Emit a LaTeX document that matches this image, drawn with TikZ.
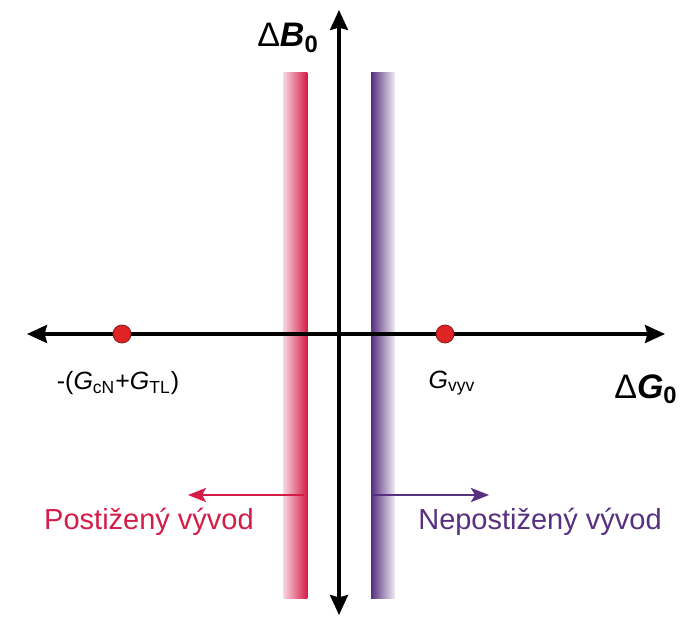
\documentclass[tikz,border=0pt]{standalone}
\usepackage{fontspec}
\setmainfont{Liberation Sans}
\usetikzlibrary{arrows.meta,positioning}
\definecolor{postred}{RGB}{212,28,72}
\definecolor{nepurple}{RGB}{88,48,128}
\definecolor{dotred}{RGB}{222,36,36}
\begin{document}
\begin{tikzpicture}[x=0.5pt,y=-0.5pt,
  axis/.style={line width=1.6pt,
               {Stealth[length=10pt,width=9pt,inset=1.2pt]}-{Stealth[length=10pt,width=9pt,inset=1.2pt]}},
  band/.style={rectangle,draw=none,inner sep=0pt,
               minimum width=11.8pt,minimum height=262.5pt},
  pt/.style={circle,fill=dotred,draw=dotred!65!black,line width=0.4pt,
             inner sep=0pt,minimum size=9pt},
  ax/.style={font=\fontsize{17}{20}\selectfont,inner sep=0pt},
  val/.style={font=\fontsize{12.5}{15}\selectfont,inner sep=0pt},
  side/.style={font=\fontsize{14.5}{17}\selectfont,inner sep=0pt},
  arr/.style={line width=1.4pt,-{Stealth[length=9pt,width=7pt,inset=2pt]}}]
\useasboundingbox (0,0) rectangle (683,619);
%%
%% Shaded bands
\node[band,left color=postred!20,right color=postred](redband) at (295.5,335.5) {};
\node[band,left color=nepurple,right color=nepurple!10](blueband) at (383,335.5) {};
%%
%% Axis ends
\coordinate (gl) at (27,334);
\coordinate (gr) at (665,334);
\coordinate (bt) at (339,10);
\coordinate (bb) at (339,615);
\draw[axis](gl) -- (gr);
\draw[axis](bb) -- (bt);
%%
%% Axis labels
\node[ax](db) at (288,38) {Δ\textbf{\textit{B}}\textsubscript{\textbf{0}}};
\node[ax](dg) at (646,389) {Δ\textbf{\textit{G}}\textsubscript{\textbf{0}}};
%%
%% Points on the G axis
\node[pt](gneg) at (122,334) {};
\node[pt](gvyv) at (445,334) {};
\node[val](lneg) at (118,383) {-(\textit{G}\textsubscript{cN}+\textit{G}\textsubscript{TL})};
\node[val](lvyv) at (452,383) {\textit{G}\textsubscript{vyv}};
%%
%% Side arrows
\coordinate (rs) at (304,495);
\coordinate (re) at (188,495);
\coordinate (bs) at (373,495);
\coordinate (be) at (489,495);
\draw[arr,postred](rs) -- (re);
\draw[arr,nepurple](bs) -- (be);
\node[side,text=postred](post) at (149,522) {Postižený vývod};
\node[side,text=nepurple](nepost) at (540,522) {Nepostižený vývod};
\end{tikzpicture}
\end{document}
